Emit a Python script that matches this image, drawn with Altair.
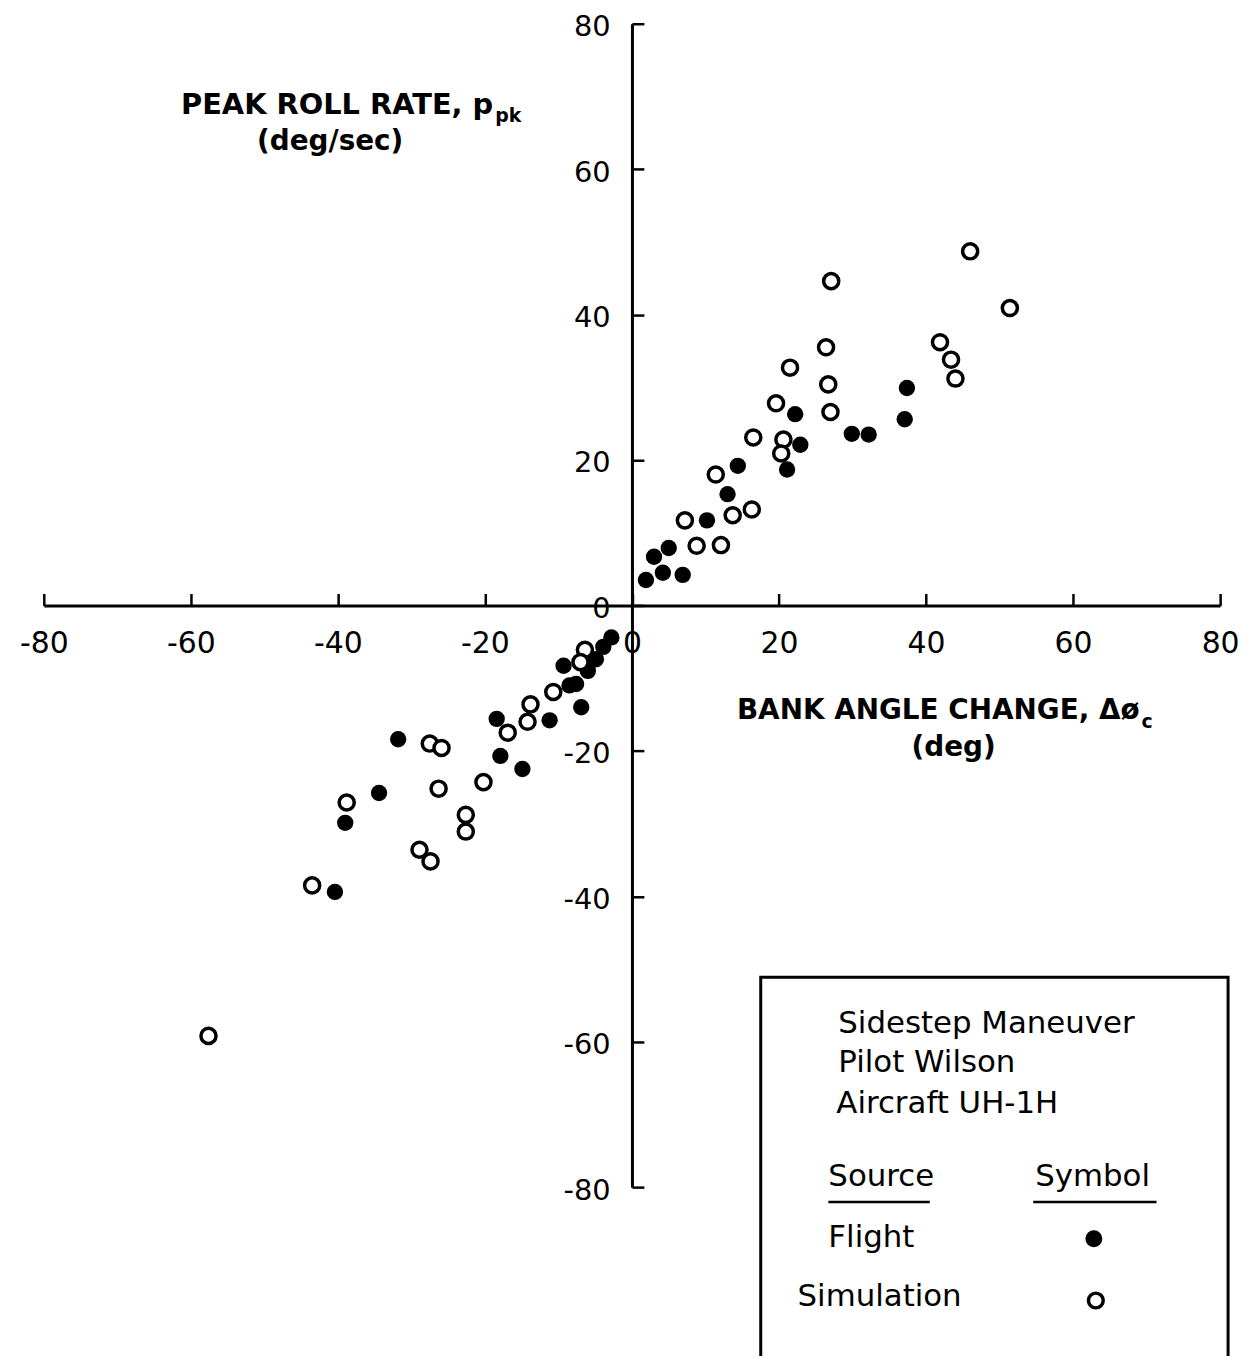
import altair as alt
import pandas as pd

# ---- data ----
flight_x = [37.4, 37.1, 29.9, 32.2, 22.2, 22.9, 21.1, 14.4, 13.0, 10.2, 5.0, 3.0, 6.9, 4.2, 1.9,
            -2.8, -3.9, -4.9, -6.0, -7.6, -9.3, -8.5, -6.9, -11.2, -18.4, -17.9, -14.9,
            -31.8, -34.4, -39.0, -40.4]
flight_y = [29.9, 25.6, 23.6, 23.5, 26.3, 22.1, 18.7, 19.2, 15.3, 11.7, 7.9, 6.7, 4.2, 4.5, 3.5,
            -4.4, -5.7, -7.4, -9.0, -10.8, -8.3, -11.0, -14.0, -15.8, -15.6, -20.7, -22.5,
            -18.4, -25.8, -29.9, -39.4]
sim_x = [46.0, 27.1, 51.4, 41.9, 43.4, 44.0, 26.4, 21.5, 26.7, 27.0, 19.6, 16.5, 20.6, 20.3,
         11.4, 16.3, 13.7, 7.2, 8.8, 12.1,
         -6.4, -7.0, -10.7, -13.8, -14.2, -16.9, -20.2, -27.5, -25.9, -38.8, -26.3, -22.6,
         -22.6, -28.9, -27.4, -43.5, -57.6]
sim_y = [48.7, 44.6, 40.9, 36.2, 33.8, 31.2, 35.5, 32.7, 30.4, 26.6, 27.8, 23.1, 22.8, 20.9,
         18.0, 13.2, 12.4, 11.7, 8.2, 8.3,
         -6.1, -7.8, -11.9, -13.6, -16.0, -17.5, -24.3, -19.0, -19.6, -27.1, -25.2, -28.8,
         -31.1, -33.6, -35.2, -38.5, -59.2]
x_ticks = [-80, -60, -40, -20, 0, 20, 40, 60, 80]
y_ticks = [-80, -60, -40, -20, 0, 20, 40, 60, 80]

W, H = 1183, 1170
FONT = "DejaVu Sans"

flight = pd.DataFrame({"x": flight_x, "y": flight_y, "source": "Flight"})
sim = pd.DataFrame({"x": sim_x, "y": sim_y, "source": "Simulation"})

xscale = alt.Scale(domain=[-80, 80], nice=False, zero=False)
yscale = alt.Scale(domain=[-80, 80], nice=False, zero=False)

x_axis = alt.Axis(orient="top", offset=-H / 2, values=x_ticks, tickSize=12, tickWidth=2.5,
                  domainWidth=3, domainColor="black", tickColor="black",
                  labelPadding=-35, labelBaseline="top", labelFontSize=30, labelFont=FONT,
                  labelColor="black", labelFlush=False, labelOverlap=False, grid=False,
                  title=None, labelExpr="datum.value + ''")
y_axis = alt.Axis(orient="right", offset=-W / 2, values=y_ticks, tickSize=12, tickWidth=2.5,
                  domainWidth=3, domainColor="black", tickColor="black",
                  labelPadding=-34, labelAlign="right", labelBaseline="middle",
                  labelOffset=3, labelFontSize=29, labelFont=FONT, labelColor="black",
                  labelFlush=False, labelOverlap=False, grid=False, title=None,
                  labelExpr="datum.value + ''")

flight_layer = alt.Chart(flight).mark_circle(size=270, color="black", opacity=1).encode(
    x=alt.X("x:Q", scale=xscale, axis=x_axis),
    y=alt.Y("y:Q", scale=yscale, axis=y_axis),
)
sim_layer = alt.Chart(sim).mark_point(size=230, shape="circle", filled=False, fill="white",
                                      fillOpacity=1, stroke="black", strokeWidth=3.5,
                                      opacity=1).encode(
    x=alt.X("x:Q", scale=xscale),
    y=alt.Y("y:Q", scale=yscale),
)


def label(text, px, py, size=27, align="left", weight="normal", baseline="middle"):
    return alt.Chart(pd.DataFrame({"t": [text]})).mark_text(
        font=FONT, fontSize=size, align=align, baseline=baseline, fontWeight=weight,
        color="black").encode(x=alt.value(px), y=alt.value(py), text="t:N")


# annotations (pixel positions relative to plot origin)
annots = [
    label("PEAK ROLL RATE, p", 452, 82, size=29, align="right", weight="bold"),
    label("pk", 454, 93, size=19, weight="bold"),
    label("(deg/sec)", 288, 119, size=28, align="center", weight="bold"),
    label("BANK ANGLE CHANGE, Δø", 1102, 691, size=28, align="right", weight="bold"),
    label("c", 1104, 702, size=19, weight="bold"),
    label("(deg)", 915, 728, size=28, align="center", weight="bold"),
]

# legend box
box = alt.Chart(pd.DataFrame({"a": [0]})).mark_rect(
    fill="white", stroke="black", strokeWidth=3).encode(
    x=alt.value(721), x2=alt.value(1191), y=alt.value(959), y2=alt.value(1400))
LS = 31
legend_items = [
    label("Sidestep Maneuver", 799, 1006, size=LS),
    label("Pilot Wilson", 799, 1045, size=LS),
    label("Aircraft UH-1H", 797, 1086, size=LS),
    label("Source", 789, 1160, size=LS),
    label("Symbol", 997, 1160, size=LS),
    label("Flight", 789, 1221, size=LS),
    label("Simulation", 758, 1281, size=LS),
]
underlines = [
    alt.Chart(pd.DataFrame({"a": [0]})).mark_rule(color="black", strokeWidth=2.5).encode(
        x=alt.value(789), x2=alt.value(891), y=alt.value(1185)),
    alt.Chart(pd.DataFrame({"a": [0]})).mark_rule(color="black", strokeWidth=2.5).encode(
        x=alt.value(995), x2=alt.value(1119), y=alt.value(1185)),
]
leg_filled = alt.Chart(pd.DataFrame({"a": [0]})).mark_circle(
    size=290, color="black", opacity=1).encode(x=alt.value(1056), y=alt.value(1222))
leg_open = alt.Chart(pd.DataFrame({"a": [0]})).mark_point(
    size=220, shape="circle", filled=False, stroke="black", strokeWidth=3.5,
    opacity=1).encode(x=alt.value(1058), y=alt.value(1284))

chart = alt.layer(
    flight_layer, sim_layer, *annots, box, *legend_items, *underlines, leg_filled, leg_open
).properties(
    width=W, height=H,
    background="white",
    autosize=alt.AutoSizeParams(type="none"),
    padding={"left": 36, "top": 12, "right": 22, "bottom": 166},
).configure_view(strokeWidth=0, stroke=None)

chart.save("out.html", embed_options={"renderer": "svg", "actions": False})
